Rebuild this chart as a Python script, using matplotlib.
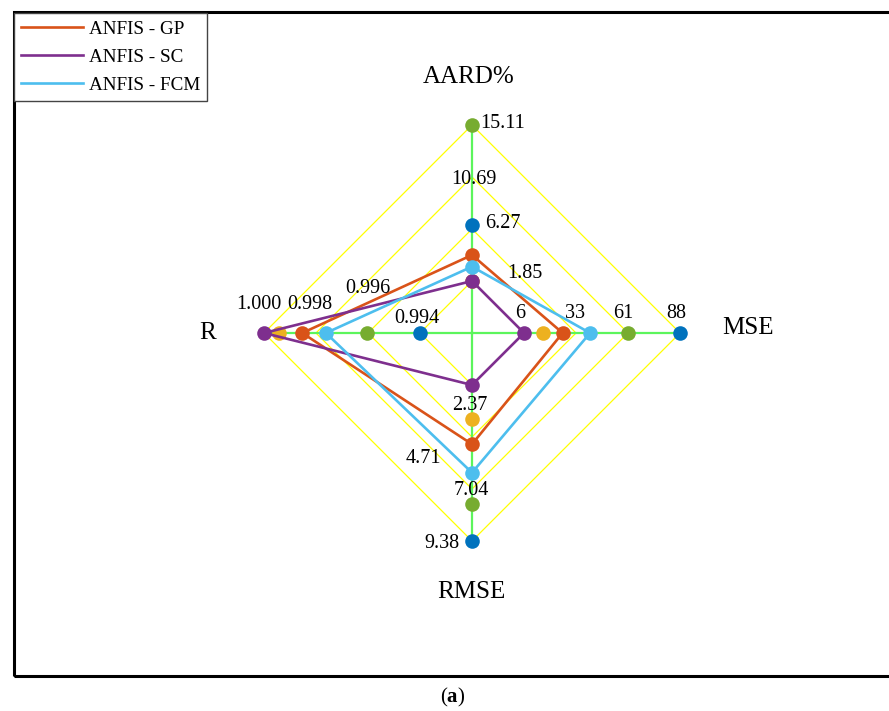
import numpy as np
import matplotlib
matplotlib.use("Agg")
import matplotlib.pyplot as plt
from matplotlib.patches import Rectangle
from matplotlib.lines import Line2D

plt.rcParams['font.family'] = ['Liberation Serif', 'DejaVu Serif']
plt.rcParams['mathtext.fontset'] = 'custom'
plt.rcParams['mathtext.rm'] = 'Liberation Serif'
plt.rcParams['mathtext.bf'] = 'Liberation Serif:bold'

# axes of the spider chart, clockwise from the top
axis_names = ['AARD%', 'MSE', 'RMSE', 'R']
tick_formats = ['%.2f', '%.0f', '%.2f', '%.3f']

# six models; only three are listed in the legend and drawn with lines
series_labels = [None, 'ANFIS - GP', None, 'ANFIS - SC', None, 'ANFIS - FCM']
series_colors = ['#0072BD', '#D95319', '#EDB120', '#7E2F8E', '#77AC30', '#4DBEEE']
series_lines = [False, True, False, True, False, True]

aard = [6.60, 4.06, 1.85, 1.85, 15.11, 3.07]
mse = [87.98, 26.0, 15.8, 5.62, 60.5, 40.5]
rmse = [9.38, 5.03, 3.91, 2.37, 7.73, 6.31]
r_val = [0.9940, 0.99853, 0.99941, 1.0000, 0.99605, 0.99762]


def main():
    W, H = 889, 711
    cx, cy, rad = 472, 333, 208  # centre and outer radius in pixels

    fig = plt.figure(figsize=(W / 100, H / 100), dpi=100)
    ax = fig.add_axes([0, 0, 1, 1])
    ax.set_xlim(-cx / rad, (W - cx) / rad)
    ax.set_ylim((cy - H) / rad, cy / rad)
    ax.axis('off')

    data = np.array([aard, mse, rmse, r_val])  # axis x series
    n_axes = len(axis_names)
    theta = np.deg2rad(90 - 90 * np.arange(n_axes))
    lo = data.min(axis=1)
    hi = data.max(axis=1)
    n_rings = 4

    # web rings
    for k in range(1, n_rings + 1):
        rho = k / n_rings
        xs = np.append(rho * np.cos(theta), rho * np.cos(theta[0]))
        ys = np.append(rho * np.sin(theta), rho * np.sin(theta[0]))
        ax.plot(xs, ys, color='#FFFF00', lw=0.9, zorder=1)

    # spokes
    for t in theta:
        ax.plot([0, np.cos(t)], [0, np.sin(t)], color='#5CF55C', lw=1.6, zorder=2)

    # tick labels, offsets in pixels (dx right, dy down)
    label_offsets = [
        [(53, -8), (31, -6), (2, 2), (31, -1)],
        [(-4, -20), (-1, -20), (-5, -20), (-4, -20)],
        [(-2, 20), (-49, 21), (-1, 1), (-30, 2)],
        [(-3, -15), (0, -45), (-6, -29), (-5, -29)],
    ]
    for i in range(n_axes):
        ticks = np.linspace(lo[i], hi[i], n_rings)
        for k in range(n_rings):
            rho = (k + 1) / n_rings
            dx, dy = label_offsets[i][k]
            ax.text(rho * np.cos(theta[i]) + dx / rad,
                    rho * np.sin(theta[i]) - dy / rad,
                    tick_formats[i] % ticks[k], fontsize=14.5,
                    ha='center', va='center', zorder=10)

    # axis titles
    title_pos = [(469, 77), (748, 328), (471, 592), (208, 333)]
    for name, (px, py) in zip(axis_names, title_pos):
        ax.text((px - cx) / rad, (cy - py) / rad, name, fontsize=18,
                ha='center', va='center')

    # series
    handles = []
    for j in range(len(series_colors)):
        vals = data[:, j]
        rho = 1 / n_rings + (1 - 1 / n_rings) * (vals - lo) / (hi - lo)
        xs = np.append(rho * np.cos(theta), rho[0] * np.cos(theta[0]))
        ys = np.append(rho * np.sin(theta), rho[0] * np.sin(theta[0]))
        if series_lines[j]:
            ax.plot(xs, ys, color=series_colors[j], lw=1.9, zorder=3 + j)
            handles.append(Line2D([], [], color=series_colors[j], lw=1.9,
                                  label=series_labels[j]))
        ax.plot(xs[:-1], ys[:-1], ls='none', marker='o', markersize=10.5,
                markeredgewidth=0, color=series_colors[j], zorder=3 + j)

    leg = fig.legend(handles=handles, loc='upper left',
                     bbox_to_anchor=(14 / W, 1 - 13 / H), borderaxespad=0,
                     fontsize=13.75, handlelength=3.25, handletextpad=0.28,
                     fancybox=False, edgecolor='#444444', framealpha=1,
                     borderpad=0.38, labelspacing=0.56)
    leg.get_frame().set_linewidth(1.0)

    # outer frame (right edge is cut off)
    fig.add_artist(Rectangle((14 / W, (H - 676) / H), 1.0, (676 - 12) / H,
                             transform=fig.transFigure, fill=False,
                             edgecolor='black', lw=2.2, zorder=0))

    fig.text(453 / W, 1 - 697 / H, r'($\mathbf{a}$)', fontsize=15,
             ha='center', va='center')

    fig.savefig('out.png', dpi=100)


if __name__ == "__main__":
    main()
